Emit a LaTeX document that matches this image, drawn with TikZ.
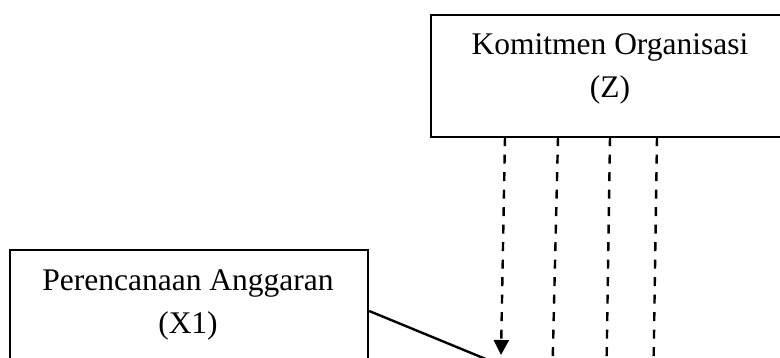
\documentclass[tikz,border=0pt]{standalone}
\usepackage{fontspec}
\setmainfont{Liberation Serif}
\usetikzlibrary{arrows.meta}
\begin{document}
\begin{tikzpicture}[x=1pt,y=-1pt,
  box/.style={draw=black,line width=2.4pt,minimum height=122pt,inner sep=0pt},
  openbox/.style={draw=none,minimum height=122pt,inner sep=0pt},
  frame/.style={line width=2.4pt,line cap=rect},
  lbl/.style={align=center,font=\fontsize{31.5}{43}\selectfont,inner sep=0pt},
  dashline/.style={line width=2.4pt,dash pattern=on 9pt off 8.5pt},
  solidline/.style={line width=2.4pt}]
\useasboundingbox (0,0) rectangle (780,358);
\clip (0,0) rectangle (780,358);
\fill[white] (0,0) rectangle (780,358);
% boxes
\node[openbox,minimum width=440pt] (Z) at (651,76) {};
\draw[frame] (Z.north east) -- (Z.north west) -- (Z.south west) -- (Z.south east);
\node[lbl] (Ztext) at (610,69) {Komitmen Organisasi\\(Z)};
\node[box,minimum width=358pt] (X1) at (189,311) {};
\node[lbl] (X1text) at (188,305) {Perencanaan Anggaran\\(X1)};
% free ends
\coordinate (t1) at (505,0);
\coordinate (t2) at (558,0);
\coordinate (t3) at (610,0);
\coordinate (t4) at (657,0);
\coordinate (e1) at (501,355);
\coordinate (e2) at (552.5,368);
\coordinate (e3) at (606.5,368);
\coordinate (e4) at (653.5,368);
\coordinate (s1) at (510,369);
% connectors
\draw[dashline,-{Triangle[width=15pt,length=15pt]}] (Z.south -| t1) -- (e1);
\draw[dashline] (Z.south -| t2) -- (e2);
\draw[dashline] (Z.south -| t3) -- (e3);
\draw[dashline] (Z.south -| t4) -- (e4);
\draw[solidline] (X1.east) -- (s1);
\end{tikzpicture}
\end{document}
